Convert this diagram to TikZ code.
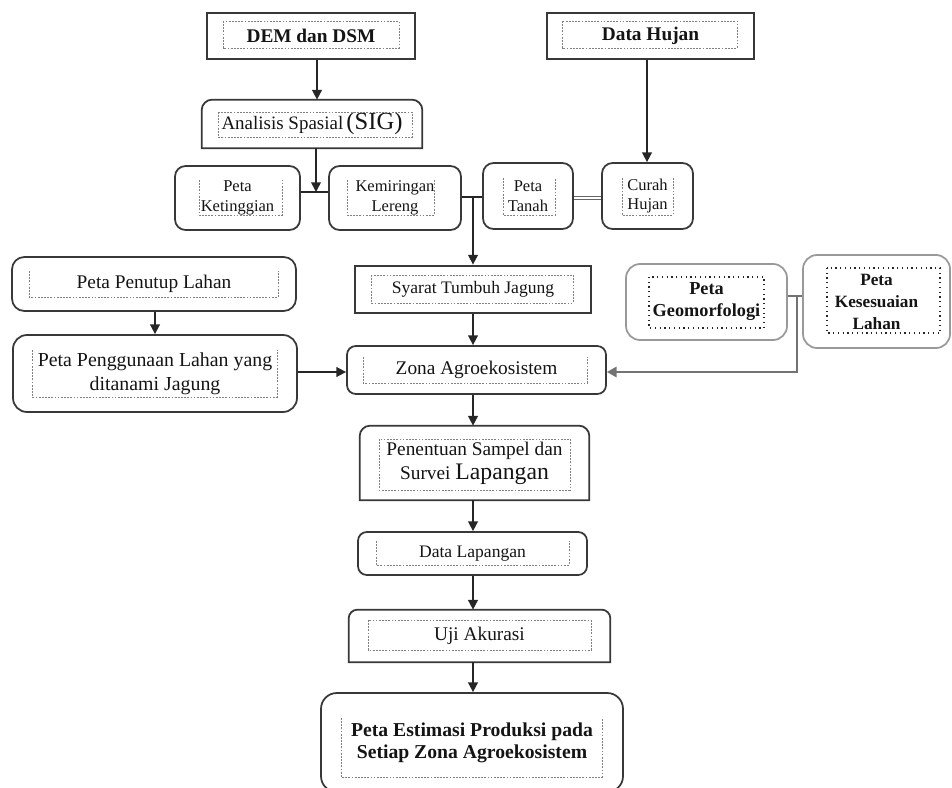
\documentclass[tikz,border=0pt]{standalone}
\usepackage{fontspec}
\setmainfont{Liberation Serif}
\usetikzlibrary{arrows.meta,calc}

\newcommand\mkbox[6]{\node[#1, minimum width={(#5-#3)*0.02cm}, minimum height={(#6-#4)*0.02cm}] (#2) at ({(#3+#5)/2},{(#4+#6)/2})}
\newcommand\toproundframe[2]{%
  \draw[bframe] (#1.south west) -- ([yshift=-#2]#1.north west)
    arc[start angle=180,end angle=90,radius=#2] -- ([xshift=-#2]#1.north east)
    arc[start angle=90,end angle=0,radius=#2] -- (#1.south east) -- cycle;}
\newcommand\opentopframe[4]{%
  \draw[dashfr] (#1,#2) -- (#1,#4) -- (#3,#4) -- (#3,#2);}

\tikzset{
  bframe/.style={draw=black!78, line width=1pt},
  sbox/.style={bframe, inner sep=0pt, align=center, text=black!92},
  rbox/.style={bframe, rounded corners=#1, inner sep=0pt, align=center, text=black!92},
  rbox/.default=6pt,
  gbox/.style={draw=black!40, line width=1pt, rounded corners=8pt, inner sep=0pt, align=center, text=black!92},
  tbox/.style={inner sep=0pt, align=center, text=black!92},
  dashfr/.style={draw=black!50, dash pattern=on 1pt off 0.8pt, line width=0.5pt},
  dotfr/.style={draw=black!85, dotted, line width=0.7pt},
  conn/.style={draw=black!85, line width=0.9pt},
  arr/.style={conn, -{Triangle[length=5.5pt,width=5.5pt]}},
  garr/.style={draw=black!55, line width=0.9pt, -{Triangle[length=5.5pt,width=6pt]}},
  dline/.style={draw=black!60, line width=0.6pt, double=white, double distance=1.4pt},
}

\begin{document}
\begin{tikzpicture}[x=0.02cm, y=-0.02cm]
\path[use as bounding box] (0,0) rectangle (952,787);
\clip (0,0) rectangle (952,787);

% ---------- boxes ----------
\mkbox{sbox, font=\fontsize{11}{13}\selectfont\bfseries}{dem}{207}{13}{415}{59} {DEM dan DSM};
\draw[dashfr] (223,21) rectangle (399,48);

\mkbox{sbox, font=\fontsize{11}{13}\selectfont\bfseries}{hujan}{547}{13}{754}{59} {Data Hujan};
\draw[dashfr] (562,21) rectangle (737,48);

\mkbox{tbox, font=\fontsize{10.8}{13}\selectfont}{ana}{202}{100}{422}{148} {Analisis Spasial\,{\fontsize{14}{16}\selectfont(SIG)}};
\toproundframe{ana}{6pt}
\draw[dashfr] (218,112) rectangle (412,137);

\mkbox{rbox=6pt, font=\fontsize{9.4}{11.3}\selectfont}{ket}{175}{166}{300}{230} {Peta\\Ketinggian};
\opentopframe{199}{180}{282}{215}

\mkbox{rbox=6pt, font=\fontsize{9.4}{11.3}\selectfont}{kem}{329}{166}{461}{230} {Kemiringan\\Lereng};
\opentopframe{347}{180}{434}{215}

\mkbox{rbox=6pt, font=\fontsize{9.4}{11.3}\selectfont}{tanah}{483}{163}{573}{229} {Peta\\Tanah};
\opentopframe{503}{178}{555}{215}

\mkbox{rbox=6pt, font=\fontsize{9.4}{11.3}\selectfont}{curah}{602}{163}{693}{229} {Curah\\Hujan};
\opentopframe{622}{178}{673}{215}

\mkbox{rbox=7pt, font=\fontsize{11}{13}\selectfont}{penutup}{12}{257}{296}{311} {Peta Penutup Lahan};
\opentopframe{29}{271}{278}{297}

\mkbox{sbox, line width=1.6pt, font=\fontsize{10}{12}\selectfont}{syarat}{355}{266}{591}{313} {Syarat Tumbuh Jagung};
\draw[dashfr] (371,275) rectangle (573,303);

\mkbox{gbox, font=\fontsize{10.4}{12.5}\selectfont\bfseries}{geo}{626}{264}{787}{340} {Peta\\Geomorfologi};
\draw[dotfr] (649,277) rectangle (764,328);

\mkbox{gbox, font=\fontsize{9.8}{12.5}\selectfont\bfseries}{kes}{803}{255}{950}{348} {Peta\\Kesesuaian\\Lahan};
\draw[dotfr] (827,268) rectangle (940,333);

\mkbox{rbox=8pt, font=\fontsize{11.3}{13.6}\selectfont}{peng}{13}{335}{297}{412} {Peta Penggunaan Lahan yang\\ditanami Jagung};
\opentopframe{32}{350}{277}{397}

\mkbox{rbox=5pt, font=\fontsize{11}{13}\selectfont}{zona}{347}{346}{606}{394} {Zona Agroekosistem};
\opentopframe{363}{357}{587}{383}

\mkbox{tbox, font=\fontsize{11}{13.6}\selectfont}{pen}{360}{426}{589}{500} {Penentuan Sampel dan\\Survei {\fontsize{13.5}{13.6}\selectfont Lapangan}};
\toproundframe{pen}{6pt}
\draw[dashfr] (379,439) rectangle (570,490);

\mkbox{rbox=5pt, font=\fontsize{10}{12}\selectfont}{lap}{358}{532}{587}{575} {Data Lapangan};
\opentopframe{376}{541}{569}{565}

\mkbox{tbox, font=\fontsize{11}{13}\selectfont}{uji}{349}{610}{610}{662} {Uji Akurasi};
\toproundframe{uji}{5pt}
\draw[dashfr] (368,620) rectangle (591,650);

\mkbox{rbox=9pt, font=\fontsize{11.2}{12.4}\selectfont\bfseries}{est}{321}{693}{623}{792} {Peta Estimasi Produksi pada\\Setiap Zona Agroekosistem};
\opentopframe{341}{718}{602}{777}

% ---------- junction coordinates ----------
\coordinate (xa) at (317,0);
\coordinate (j1) at (316,192);
\coordinate (j2) at (473,197);
\coordinate (j3) at (0,372);
\coordinate (j4) at (797,296);
\coordinate (xc) at (647,0);
\coordinate (xp) at (155,0);
\coordinate (jt) at (0,198);

% ---------- connectors ----------
\draw[arr] (dem.south -| xa) -- (ana.north -| xa);
\draw[conn] (ket.east |- j1) -- (kem.west |- j1);
\draw[arr] (ana.south -| j1) -- (j1);
\draw[conn] (kem.east |- j2) -- (tanah.west |- j2);
\draw[dline] (tanah.east |- jt) -- (curah.west |- jt);
\draw[arr] (hujan.south -| xc) -- (curah.north -| xc);
\draw[arr] (j2) -- (syarat.north -| j2);
\draw[arr] (syarat.south -| j2) -- (zona.north -| j2);
\draw[arr] (penutup.south -| xp) -- (peng.north -| xp);
\draw[arr] (peng.east |- j3) -- (zona.west |- j3);
\draw[draw=black!55, line width=0.9pt] (geo.east |- j4) -- (kes.west |- j4);
\draw[garr] (j4) |- (zona.east |- j3);
\draw[arr] (zona.south -| j2) -- (pen.north -| j2);
\draw[arr] (pen.south -| j2) -- (lap.north -| j2);
\draw[arr] (lap.south -| j2) -- (uji.north -| j2);
\draw[arr] (uji.south -| j2) -- (est.north -| j2);
\end{tikzpicture}
\end{document}
